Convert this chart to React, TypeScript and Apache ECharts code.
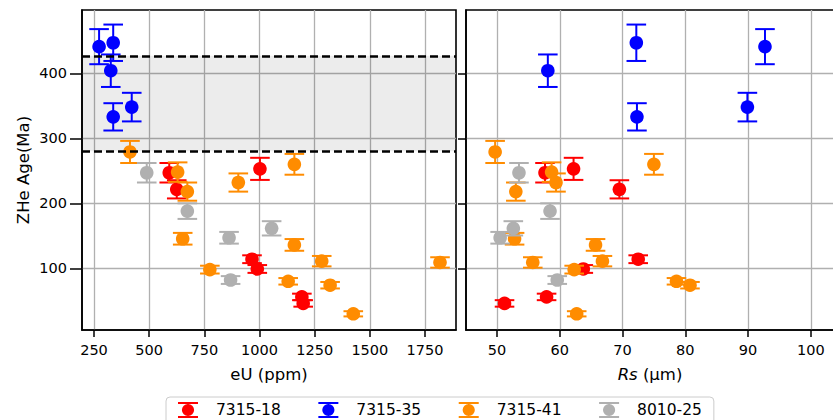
import React, { useEffect, useRef } from 'react';
import * as echarts from 'echarts';

const SERIES_NAMES = ['7315-18', '7315-35', '7315-41', '8010-25'];
const COLORS = ['#ff0000', '#0000ff', '#ff8c00', '#b0b0b0'];

// 7315-18
const EU_18 = [591, 625, 1002, 966, 990, 1192, 1198];
const RS_18 = [57.65, 69.5, 62.2, 72.5, 63.75, 57.9, 51.2];
const AGE_18 = [247, 221.5, 253, 114, 99, 56, 46];
const ERR_18 = [15, 14, 17, 6, 6, 5, 5];

// 7315-35
const EU_35 = [273, 337, 326, 421, 337];
const RS_35 = [92.7, 72.2, 58.1, 89.9, 72.3];
const AGE_35 = [441, 447, 404, 348, 333];
const ERR_35 = [27, 28, 25, 22, 21];

// 7315-41
const EU_41 = [413, 629, 904, 673, 652, 775, 1158, 1158, 1282, 1818, 1130, 1320, 1425];
const RS_41 = [49.7, 58.7, 59.4, 53, 52.8, 62.3, 75, 65.7, 66.8, 55.7, 78.6, 80.75, 62.7];
const AGE_41 = [279, 248, 232, 218, 145.5, 98, 260, 136, 111, 109, 80, 74, 30];
const ERR_41 = [17, 15, 14, 14, 9, 6, 16, 9, 8, 8, 5, 5, 4];

// 8010-25
const EU_25 = [489, 673, 862, 869, 1055];
const RS_25 = [53.5, 58.45, 50.5, 59.6, 52.6];
const AGE_25 = [247, 188, 147, 82, 161.5];
const ERR_25 = [15, 12, 9, 6, 11];

const GROUPS = [
  { eu: EU_18, rs: RS_18, age: AGE_18, err: ERR_18 },
  { eu: EU_35, rs: RS_35, age: AGE_35, err: ERR_35 },
  { eu: EU_41, rs: RS_41, age: AGE_41, err: ERR_41 },
  { eu: EU_25, rs: RS_25, age: AGE_25, err: ERR_25 },
];

const EU_TICKS = [250, 500, 750, 1000, 1250, 1500, 1750];
const RS_TICKS = [50, 60, 70, 80, 90, 100];
const AGE_TICKS = [100, 200, 300, 400];
const BAND = [280, 427];

const FONT = 'DejaVu Sans';
const LEGEND_ICON =
  'path://M0 0H20V2H0Z M9.2 2H10.8V14H9.2Z M0 14H20V16H0Z M3.9 8A6.1 6.1 0 1 1 16.1 8A6.1 6.1 0 1 1 3.9 8Z';

const makeRender = (color: string) => (params: any, api: any) => {
  const x = api.value(0);
  const y = api.value(1);
  const e = api.value(2);
  const c = api.coord([x, y]);
  const t = api.coord([x, y + e]);
  const b = api.coord([x, y - e]);
  const cap = 9.8;
  const ls = { stroke: color, lineWidth: 2 };
  return {
    type: 'group',
    children: [
      { type: 'line', shape: { x1: c[0], y1: t[1], x2: c[0], y2: b[1] }, style: ls },
      { type: 'line', shape: { x1: c[0] - cap, y1: t[1], x2: c[0] + cap, y2: t[1] }, style: ls },
      { type: 'line', shape: { x1: c[0] - cap, y1: b[1], x2: c[0] + cap, y2: b[1] }, style: ls },
      { type: 'circle', shape: { cx: c[0], cy: c[1], r: 6.8 }, style: { fill: color } },
    ],
  };
};

const plain = (v: number) => String(v);
const tickLabel = { color: '#000', fontFamily: FONT, fontSize: 14.5, formatter: plain };
const splitLine = { show: true, lineStyle: { color: '#b0b0b0', width: 1.3 } };
const axisLine = { show: true, lineStyle: { color: '#000', width: 1.6 } };

export default function App() {
  const ref = useRef<HTMLDivElement>(null);
  useEffect(() => {
    if (!ref.current) return;
    const chart = echarts.init(ref.current, null, { renderer: 'svg' });
    const series: any[] = [];
    series.push({
      type: 'line',
      name: 'band',
      xAxisIndex: 0,
      yAxisIndex: 0,
      data: [],
      z: 1,
      silent: true,
      markArea: {
        silent: true,
        itemStyle: { color: 'rgba(0,0,0,0.075)' },
        data: [[{ yAxis: BAND[0] }, { yAxis: BAND[1] }]],
      },
      markLine: {
        silent: true,
        symbol: 'none',
        label: { show: false },
        lineStyle: { color: '#000', width: 2.6, type: [8, 4] },
        data: [{ yAxis: BAND[0] }, { yAxis: BAND[1] }],
      },
    });
    [0, 1].forEach((panel) => {
      GROUPS.forEach((g, i) => {
        const xs = panel === 0 ? g.eu : g.rs;
        series.push({
          type: 'custom',
          name: SERIES_NAMES[i],
          xAxisIndex: panel,
          yAxisIndex: panel,
          z: 3,
          itemStyle: { color: COLORS[i] },
          encode: { x: 0, y: 1 },
          renderItem: makeRender(COLORS[i]),
          data: xs.map((x, k) => [x, g.age[k], g.err[k]]),
        });
      });
    });
    chart.setOption({
      animation: false,
      grid: [
        { left: 82, top: 10, width: 374, height: 320, show: true, borderColor: '#000', borderWidth: 1.6, backgroundColor: '#fff', outerBoundsMode: 'none' },
        { left: 466, top: 10, width: 368, height: 320, show: true, borderColor: '#000', borderWidth: 1.6, backgroundColor: '#fff', outerBoundsMode: 'none' },
      ],
      xAxis: [
        {
          type: 'value', gridIndex: 0, min: 195.6, max: 1890.5,
          axisLine, splitLine,
          axisTick: { show: true, length: 7, lineStyle: { color: '#000', width: 1.5 }, customValues: EU_TICKS },
          axisLabel: { ...tickLabel, margin: 12, customValues: EU_TICKS },
          name: 'eU (ppm)', nameLocation: 'middle', nameGap: 36, nameMoveOverlap: false,
          nameTextStyle: { color: '#000', fontFamily: FONT, fontSize: 16.5 },
        },
        {
          type: 'value', gridIndex: 1, min: 45.06, max: 103.7,
          axisLine, splitLine,
          axisTick: { show: true, length: 7, lineStyle: { color: '#000', width: 1.5 }, customValues: RS_TICKS },
          axisLabel: { ...tickLabel, margin: 12, customValues: RS_TICKS },
          name: '{i|Rs} (μm)', nameLocation: 'middle', nameGap: 36, nameMoveOverlap: false,
          nameTextStyle: {
            color: '#000', fontFamily: FONT, fontSize: 16.5,
            rich: { i: { fontStyle: 'italic', fontFamily: FONT, fontSize: 16.5, color: '#000' } },
          },
        },
      ],
      yAxis: [
        {
          type: 'value', gridIndex: 0, min: 5.1, max: 497.4,
          axisLine, splitLine,
          axisTick: { show: true, length: 12, lineStyle: { color: '#000', width: 1.5 }, customValues: AGE_TICKS },
          axisLabel: { ...tickLabel, margin: 15, customValues: AGE_TICKS },
          name: 'ZHe Age(Ma)', nameLocation: 'middle', nameGap: 50, nameMoveOverlap: false,
          nameTextStyle: { color: '#000', fontFamily: FONT, fontSize: 16.5 },
        },
        {
          type: 'value', gridIndex: 1, min: 5.1, max: 497.4,
          axisLine, splitLine,
          axisTick: { show: true, length: 8, lineStyle: { color: '#000', width: 1.5 }, customValues: AGE_TICKS },
          axisLabel: { show: false, customValues: AGE_TICKS },
        },
      ],
      legend: {
        data: SERIES_NAMES.map((n) => ({ name: n, icon: LEGEND_ICON })),
        left: 166,
        top: 397,
        orient: 'horizontal',
        itemWidth: 20,
        itemHeight: 16,
        itemGap: 37.6,
        padding: [5, 12, 10, 12],
        borderColor: '#cccccc',
        borderWidth: 1,
        borderRadius: 4,
        backgroundColor: '#fff',
        selectedMode: false,
        textStyle: { color: '#000', fontFamily: FONT, fontSize: 15.5, padding: [0, 0, 0, 13] },
      },
      series,
    });
    return () => chart.dispose();
  }, []);
  return <div ref={ref} style={{ position: 'absolute', left: 0, top: 0, width: 833, height: 420 }} />;
}
